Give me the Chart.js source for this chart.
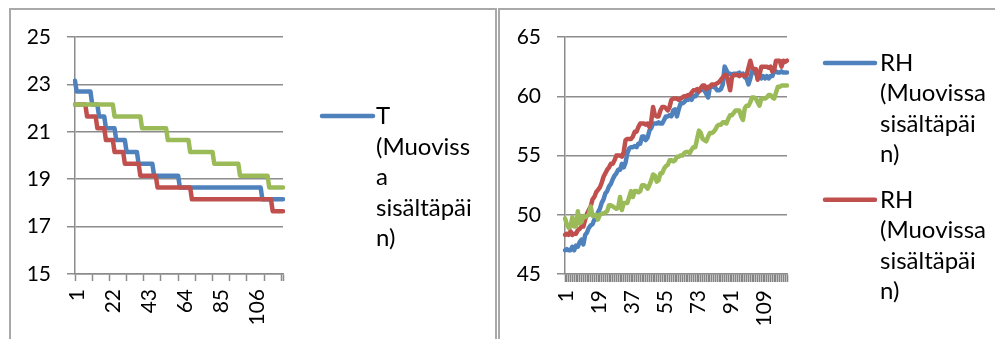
<!DOCTYPE html>
<html>
<head>
<meta charset="utf-8">
<script src="https://cdn.jsdelivr.net/npm/chart.js@4.4.1/dist/chart.umd.min.js"></script>
<style>
  html, body { margin: 0; padding: 0; background: #fff; overflow: hidden; width: 995px; height: 339px; }
  .frame { position: absolute; border: 2px solid #a9a9a9; border-bottom: none; box-sizing: border-box; }
  canvas { position: absolute; top: 0; }
</style>
</head>
<body>
<div class="frame" style="left:9px; top:8px; width:488px; height:400px;"></div>
<div class="frame" style="left:498px; top:8px; width:520px; height:400px; border-right:none;"></div>
<canvas id="tChart" width="497" height="339" style="left:0px;"></canvas>
<canvas id="rhChart" width="498" height="339" style="left:497px;"></canvas>

<script>
// Measurement numbers (one per reading)
const readings = [
  1,2,3,4,5,6,7,8,9,10,11,12,13,14,15,16,17,18,19,20,
  21,22,23,24,25,26,27,28,29,30,31,32,33,34,35,36,37,38,39,40,
  41,42,43,44,45,46,47,48,49,50,51,52,53,54,55,56,57,58,59,60,
  61,62,63,64,65,66,67,68,69,70,71,72,73,74,75,76,77,78,79,80,
  81,82,83,84,85,86,87,88,89,90,91,92,93,94,95,96,97,98,99,100,
  101,102,103,104,105,106,107,108,109,110,111,112,113,114,115,116,117,118,119,120,
  121,122
];

// Temperature (°C)
const tBlue = [
  23.15,22.7,22.7,22.7,22.7,22.7,22.7,22.7,22.7,22.7,
  22.15,22.15,22.15,22.15,21.65,21.65,21.65,21.65,21.15,21.15,
  21.15,21.15,21.15,21.15,20.65,20.65,20.65,20.65,20.65,20.65,
  20.15,20.15,20.15,20.15,20.15,20.15,20.15,19.65,19.65,19.65,
  19.65,19.65,19.65,19.65,19.65,19.65,19.15,19.15,19.15,19.15,
  19.15,19.15,19.15,19.15,19.15,19.15,19.15,19.15,19.15,19.15,
  19.15,18.65,18.65,18.65,18.65,18.65,18.65,18.65,18.65,18.65,
  18.65,18.65,18.65,18.65,18.65,18.65,18.65,18.65,18.65,18.65,
  18.65,18.65,18.65,18.65,18.65,18.65,18.65,18.65,18.65,18.65,
  18.65,18.65,18.65,18.65,18.65,18.65,18.65,18.65,18.65,18.65,
  18.65,18.65,18.65,18.65,18.65,18.65,18.65,18.65,18.65,18.15,
  18.15,18.15,18.15,18.15,18.15,18.15,18.15,18.15,18.15,18.15,
  18.15,18.15
];
const tRed = [
  22.15,22.15,22.15,22.15,22.15,22.15,22.15,21.65,21.65,21.65,
  21.65,21.65,21.65,21.15,21.15,21.15,21.15,21.15,20.65,20.65,
  20.65,20.65,20.65,20.15,20.15,20.15,20.15,20.15,20.15,19.65,
  19.65,19.65,19.65,19.65,19.65,19.65,19.65,19.65,19.15,19.15,
  19.15,19.15,19.15,19.15,19.15,19.15,19.15,19.15,18.65,18.65,
  18.65,18.65,18.65,18.65,18.65,18.65,18.65,18.65,18.65,18.65,
  18.65,18.65,18.65,18.65,18.65,18.65,18.65,18.65,18.15,18.15,
  18.15,18.15,18.15,18.15,18.15,18.15,18.15,18.15,18.15,18.15,
  18.15,18.15,18.15,18.15,18.15,18.15,18.15,18.15,18.15,18.15,
  18.15,18.15,18.15,18.15,18.15,18.15,18.15,18.15,18.15,18.15,
  18.15,18.15,18.15,18.15,18.15,18.15,18.15,18.15,18.15,18.15,
  18.15,18.15,18.15,18.15,18.15,17.65,17.65,17.65,17.65,17.65,
  17.65,17.65
];
const tGreen = [
  22.15,22.15,22.15,22.15,22.15,22.15,22.15,22.15,22.15,22.15,
  22.15,22.15,22.15,22.15,22.15,22.15,22.15,22.15,22.15,22.15,
  22.15,22.15,22.15,21.65,21.65,21.65,21.65,21.65,21.65,21.65,
  21.65,21.65,21.65,21.65,21.65,21.65,21.65,21.65,21.65,21.15,
  21.15,21.15,21.15,21.15,21.15,21.15,21.15,21.15,21.15,21.15,
  21.15,21.15,21.15,21.15,20.65,20.65,20.65,20.65,20.65,20.65,
  20.65,20.65,20.65,20.65,20.65,20.65,20.65,20.15,20.15,20.15,
  20.15,20.15,20.15,20.15,20.15,20.15,20.15,20.15,20.15,20.15,
  20.15,19.65,19.65,19.65,19.65,19.65,19.65,19.65,19.65,19.65,
  19.65,19.65,19.65,19.65,19.65,19.65,19.15,19.15,19.15,19.15,
  19.15,19.15,19.15,19.15,19.15,19.15,19.15,19.15,19.15,19.15,
  19.15,19.15,19.15,18.65,18.65,18.65,18.65,18.65,18.65,18.65,
  18.65,18.65
];

// Relative humidity (%)
const rhBlue = [
  47.0,47.1,47.0,47.0,47.3,47.0,47.4,47.3,47.7,47.9,
  47.5,48.3,48.5,48.9,49.1,49.2,49.6,49.6,50.2,50.5,
  51.0,51.3,51.8,52.0,52.4,52.6,53.0,53.3,53.5,53.8,
  53.8,54.3,54.0,54.4,55.2,55.6,55.7,55.7,55.8,55.7,
  56.0,56.0,56.6,56.6,56.3,56.5,57.1,57.3,57.7,57.7,
  57.7,57.8,57.7,57.7,58.0,58.3,58.3,58.4,58.3,58.8,
  58.9,58.3,58.9,59.4,59.4,59.5,59.7,59.7,59.8,59.7,
  60.0,60.0,60.2,60.5,60.5,60.6,60.5,60.2,59.9,60.8,
  60.8,60.8,60.7,60.5,60.5,60.6,61.0,62.5,62.2,61.9,
  61.9,61.8,61.9,61.9,61.9,62.0,61.8,61.9,61.6,61.5,
  61.0,61.5,62.1,62.0,62.1,61.5,61.7,61.5,61.7,61.5,
  61.7,61.5,61.7,61.7,62.1,62.1,62.0,62.0,62.1,62.0,
  62.0,62.0
];
const rhRed = [
  48.3,48.4,48.3,48.6,48.3,48.4,48.4,48.7,48.8,49.0,
  49.0,49.6,50.1,50.4,50.7,51.3,51.5,51.9,52.1,52.3,
  52.7,53.2,53.5,53.8,54.0,54.3,54.3,54.6,55.0,55.0,
  55.0,54.9,55.3,56.3,56.4,56.4,56.4,56.6,57.0,57.0,
  57.4,57.7,57.7,57.7,57.6,57.7,57.4,57.9,59.1,58.4,
  58.3,58.3,58.8,59.1,59.1,59.0,58.8,59.1,59.7,59.8,
  59.8,59.8,59.7,59.8,59.9,60.0,60.0,60.1,60.1,60.3,
  60.5,60.5,60.6,60.4,60.7,60.9,60.9,60.6,60.8,60.8,
  61.0,61.0,61.0,61.1,61.2,61.4,61.6,61.8,61.8,61.2,
  60.5,61.6,61.8,61.8,61.8,61.7,61.8,61.8,61.7,61.8,
  62.4,63.0,62.4,62.3,62.3,61.4,61.8,62.5,62.5,62.5,
  62.5,62.4,62.5,62.1,62.2,63.0,63.0,63.0,62.5,63.0,
  62.9,63.0
];
const rhGreen = [
  49.7,49.2,48.9,49.0,49.8,49.0,49.0,50.3,49.3,49.4,
  49.9,49.8,49.9,50.0,50.7,49.9,49.9,50.0,49.6,50.0,
  50.1,50.1,50.2,50.3,50.8,50.8,50.7,50.6,50.5,50.6,
  51.5,50.4,51.0,51.0,51.0,51.5,52.0,51.5,52.0,52.0,
  51.9,52.0,52.5,52.5,52.4,52.2,52.5,52.9,53.4,53.3,
  52.8,52.9,53.5,53.5,53.9,54.1,54.2,54.6,54.6,54.5,
  54.6,54.9,54.9,55.0,55.0,55.2,55.3,55.3,55.2,55.5,
  55.7,55.7,56.4,57.1,56.9,56.4,56.3,56.2,56.6,56.9,
  56.9,57.0,57.2,57.5,57.6,57.6,57.8,57.8,57.7,58.1,
  58.4,58.4,58.6,58.8,58.8,58.8,58.3,58.0,59.0,59.2,
  59.2,59.5,59.9,59.9,59.8,59.5,59.2,59.8,59.8,59.8,
  59.9,60.1,60.1,59.9,59.8,60.3,60.8,60.8,60.9,60.9,
  60.9,60.9
];

// Axis ticks
const tTicks = [15, 17, 19, 21, 23, 25];
const rhTicks = [45, 50, 55, 60, 65];
const tLabelEvery = 21;
const rhLabelEvery = 18;

// Legend text, wrapped into the narrow legend column
const tLegendLines = ['T', '(Muoviss', 'a', 'sisältäpäi', 'n)'];
const rhLegendLines = ['RH', '(Muovissa', 'sisältäpäi', 'n)'];

const BLUE = '#4F81BD', RED = '#C0504D', GREEN = '#9BBB59';
const AXIS_GRAY = '#8c8c8c';
const FONT_FAMILY = 'Lato';
const TICK_FONT_SIZE = 21;
const LEGEND_FONT_SIZE = 24;

// Legend with pre-wrapped lines and a sample stroke for each entry
const wrappedLegend = {
  id: 'wrappedLegend',
  afterDraw(chart, args, opts) {
    const ctx = chart.ctx;
    ctx.save();
    ctx.font = LEGEND_FONT_SIZE + 'px ' + FONT_FAMILY;
    ctx.fillStyle = '#000';
    ctx.textAlign = 'left';
    ctx.textBaseline = 'alphabetic';
    let base = opts.top;
    opts.items.forEach(item => {
      const ds = chart.data.datasets[item.dataset];
      ctx.strokeStyle = ds.borderColor;
      ctx.lineWidth = 4.5;
      ctx.lineCap = 'round';
      ctx.beginPath();
      ctx.moveTo(opts.lineX0, base - 8);
      ctx.lineTo(opts.lineX1, base - 8);
      ctx.stroke();
      item.lines.forEach((t, k) => ctx.fillText(t, opts.textX, base + k * opts.lineHeight));
      base += (item.lines.length - 1) * opts.lineHeight + opts.itemGap;
    });
    ctx.restore();
  }
};

function lineSet(label, data, color, order) {
  return {
    label, data, order,
    borderColor: color,
    backgroundColor: color,
    borderWidth: 4.5,
    borderCapStyle: 'round',
    borderJoinStyle: 'round',
    pointRadius: 0,
    pointHoverRadius: 0,
    tension: 0,
    fill: false
  };
}

function makeChart(canvasId, cfg) {
  const last = readings.length - 1;
  return new Chart(document.getElementById(canvasId), {
    type: 'line',
    data: { labels: readings.map(String), datasets: cfg.datasets },
    plugins: [wrappedLegend],
    options: {
      responsive: false,
      animation: false,
      devicePixelRatio: 1,
      layout: { padding: { left: 0, top: 37, right: cfg.padRight, bottom: 0 } },
      plugins: {
        legend: { display: false },
        tooltip: { enabled: false },
        wrappedLegend: cfg.legend
      },
      scales: {
        x: {
          type: 'category',
          offset: false,
          afterFit: s => { s.height = 65; },
          grid: {
            drawOnChartArea: false,
            drawTicks: true,
            tickLength: cfg.xTickLength,
            tickWidth: cfg.xTickWidth,
            tickColor: c => (cfg.xTickEvery === 1 || c.index % cfg.xTickEvery === 0 || c.index === last) ? cfg.xTickColor : 'rgba(0,0,0,0)'
          },
          border: { display: true, color: AXIS_GRAY, width: 1.5 },
          ticks: {
            autoSkip: false,
            minRotation: 90,
            maxRotation: 90,
            padding: 8,
            labelOffset: cfg.labelOffset,
            color: '#000',
            font: { family: FONT_FAMILY, size: TICK_FONT_SIZE },
            callback: (v, i) => (i % cfg.labelEvery === 0 ? readings[i] : '')
          }
        },
        y: {
          min: cfg.yTicks[0],
          max: cfg.yTicks[cfg.yTicks.length - 1],
          afterFit: s => { s.width = cfg.yWidth; },
          afterBuildTicks: s => { s.ticks = cfg.yTicks.map(v => ({ value: v })); },
          grid: { color: AXIS_GRAY, lineWidth: 1.5, tickLength: 8, drawTicks: true },
          border: { display: true, color: AXIS_GRAY, width: 1.5 },
          ticks: {
            padding: 16,
            color: '#000',
            font: { family: FONT_FAMILY, size: TICK_FONT_SIZE }
          }
        }
      }
    }
  });
}

makeChart('tChart', {
  datasets: [
    lineSet('T (Muovissa sisältäpäin)', tBlue, BLUE, 3),
    lineSet('T (Muovissa sisältäpäin)', tRed, RED, 2),
    lineSet('T (Muovissa sisältäpäin)', tGreen, GREEN, 1)
  ],
  yTicks: tTicks,
  yWidth: 75,
  padRight: 214,
  xTickEvery: 10,
  xTickLength: 7,
  xTickWidth: 1.5,
  xTickColor: AXIS_GRAY,
  labelOffset: 2,
  labelEvery: tLabelEvery,
  legend: {
    top: 124, lineHeight: 30.5, itemGap: 45.5,
    lineX0: 322, lineX1: 373, textX: 376,
    items: [{ dataset: 0, lines: tLegendLines }]
  }
});

makeChart('rhChart', {
  datasets: [
    lineSet('RH (Muovissa sisältäpäin)', rhBlue, BLUE, 3),
    lineSet('RH (Muovissa sisältäpäin)', rhRed, RED, 2),
    lineSet('RH (Muovissa sisältäpäin)', rhGreen, GREEN, 1)
  ],
  yTicks: rhTicks,
  yWidth: 68,
  padRight: 208,
  xTickEvery: 1,
  xTickLength: 8,
  xTickWidth: 1.6,
  xTickColor: '#858585',
  labelOffset: 1,
  labelEvery: rhLabelEvery,
  legend: {
    top: 71, lineHeight: 30.4, itemGap: 45.6,
    lineX0: 328, lineX1: 378, textX: 383,
    items: [
      { dataset: 0, lines: rhLegendLines },
      { dataset: 1, lines: rhLegendLines }
    ]
  }
});
</script>
</body>
</html>
